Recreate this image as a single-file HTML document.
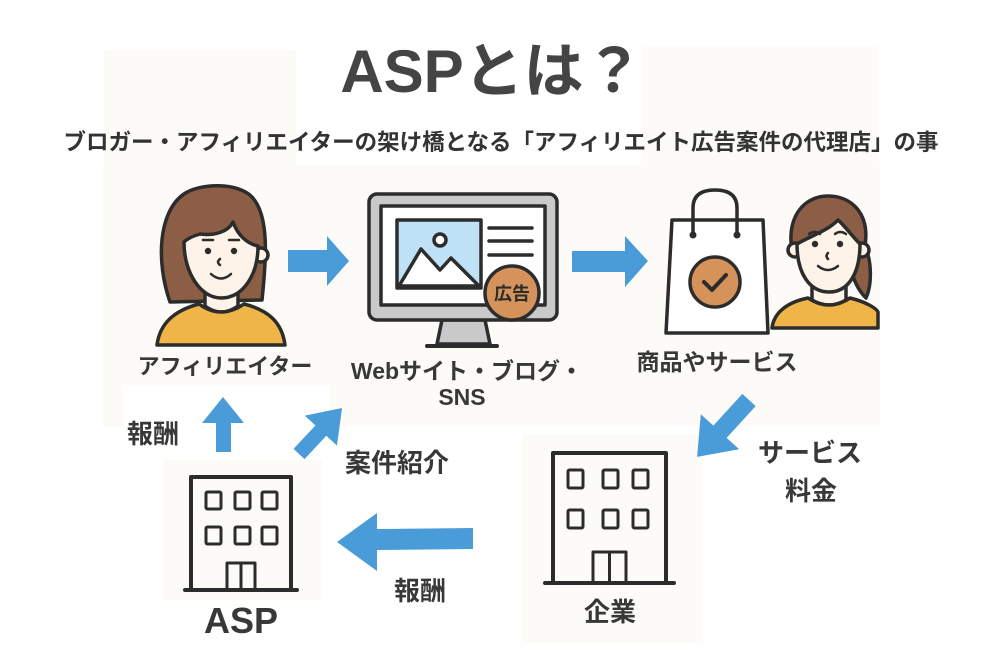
<!DOCTYPE html>
<html><head><meta charset="utf-8"><style>
html,body{margin:0;padding:0;background:#fff;}
svg{display:block;}
text{font-family:"Liberation Sans","Noto Sans CJK JP",sans-serif;font-weight:bold;fill:#383838;}
</style></head><body>
<svg width="1000" height="656" viewBox="0 0 1000 656" xmlns="http://www.w3.org/2000/svg">
<rect width="1000" height="656" fill="#fff"/>
<!-- cream backgrounds -->
<g fill="#fdfbf7">
<rect x="104" y="50" width="192" height="120"/>
<rect x="641" y="47" width="238" height="123"/>
<rect x="103" y="165" width="777" height="220"/>
<rect x="103" y="385" width="20" height="42"/>
<rect x="330" y="385" width="550" height="40"/>
<rect x="163" y="460" width="159" height="140"/>
<rect x="522" y="435" width="181" height="208"/>
</g>

<!-- title -->
<text x="492" y="92" font-size="60" text-anchor="middle" style="fill:#444">ASPとは？</text>
<text x="501" y="150" font-size="22.5" text-anchor="middle" style="fill:#333">ブロガー・アフィリエイターの架け橋となる「アフィリエイト広告案件の代理店」の事</text>

<g stroke="#2c2c2c" stroke-width="3.5" stroke-linejoin="round" stroke-linecap="round">
<!-- left person -->
<path d="M170,302 C156,262 158,212 184,194 C200,183 238,182 252,197 C270,216 266,262 262,300 Z" fill="#8b5e45"/>
<path d="M205,288 L205,306 Q221,318 238,306 L238,288 Z" fill="#fdf3e8"/>
<path d="M157,345 C160,322 176,310 199,304 Q221,320 244,304 C268,310 282,322 285,345 Z" fill="#f0b548"/>
<circle cx="261" cy="255" r="7" fill="#fdf3e8"/>
<path d="M184,242 C184,272 200,298 221,298 C243,298 258,275 258,246 C248,244 238,236 233,222 C228,232 214,236 200,234 C193,236 188,238 184,242 Z" fill="#fdf3e8"/>
<!-- right person -->
<path d="M792,252 C786,214 806,196 828,196 C852,196 870,214 865,246 C872,262 872,285 866,298 C858,290 852,278 852,268 Z" fill="#8b5e45"/>
<path d="M812,285 L812,300 Q829,310 846,300 L846,285 Z" fill="#fdf3e8"/>
<path d="M772,328 C774,312 788,302 808,298 Q829,312 850,298 C866,302 876,308 878,312 L878,328 Z" fill="#f0b548"/>
<circle cx="795" cy="250" r="7" fill="#fdf3e8"/>
<circle cx="862" cy="250" r="7" fill="#fdf3e8"/>
<path d="M797,244 C797,274 810,292 829,292 C848,292 860,274 860,244 C852,236 845,226 838,220 C826,232 810,236 797,244 Z" fill="#fdf3e8"/>
</g>
<!-- faces -->
<g fill="#2c2c2c">
<circle cx="208" cy="251" r="3.2"/><circle cx="234" cy="251" r="3.2"/>
<circle cx="815" cy="244" r="3.2"/><circle cx="840" cy="244" r="3.2"/>
</g>
<g stroke="#2c2c2c" stroke-width="2.5" fill="none" stroke-linecap="round">
<path d="M203,240 L213,240"/><path d="M229,240 L239,240"/>
<path d="M220,259 Q216,262 220,265"/>
<path d="M211,274 Q221,283 231,274"/>
<path d="M809,234 Q814,230 820,234"/><path d="M835,234 Q840,230 846,234"/>
<path d="M828,253 Q825,256 828,259"/>
<path d="M818,266 Q828,274 838,266"/>
</g>

<!-- monitor -->
<g stroke="#2c2c2c" stroke-width="3.5" stroke-linejoin="round" stroke-linecap="round">
<path d="M442,320 L485,320 L490,344 L437,344 Z" fill="#c9c9c9"/>
<line x1="427" y1="346" x2="497" y2="346" stroke-width="4"/>
<rect x="369" y="194" width="188" height="126" rx="8" fill="#c9c9c9"/>
<rect x="381" y="206" width="164" height="99" fill="#fefefe"/>
<rect x="397" y="220" width="84" height="68" fill="#bfe1f5"/>
<path d="M399,286 L421,249 L440,270 L451,258 L479,286 Z" fill="#fff"/>
<circle cx="440" cy="240" r="6" fill="#fff"/>
<line x1="489" y1="228" x2="532" y2="228"/>
<line x1="489" y1="241" x2="532" y2="241"/>
<line x1="489" y1="255" x2="532" y2="255"/>
<circle cx="512" cy="293" r="27" fill="#d5925a"/>
</g>
<text x="512" y="300" font-size="18" text-anchor="middle" style="fill:#2c2c2c">広告</text>

<!-- shopping bag -->
<g stroke="#2c2c2c" stroke-width="3.5" stroke-linejoin="round" stroke-linecap="round">
<path d="M693,235 L693,208 Q693,190 715,190 Q737,190 737,208 L737,235" fill="none"/>
<path d="M672,220 L763,220 L768,333 L666,333 Z" fill="#fff"/>
<path d="M693,235 L693,222 M737,235 L737,222" fill="none"/>
<circle cx="715" cy="282" r="25" fill="#d5925a"/>
<polyline points="704,282 712,290 726,275" fill="none" stroke-width="4"/>
</g>
<circle cx="693" cy="235" r="3.5" fill="#2c2c2c"/>
<circle cx="737" cy="235" r="3.5" fill="#2c2c2c"/>

<!-- arrows -->
<g fill="#4a9cd9">
<polygon points="288,250 327,250 327,236 349,261 327,286 327,272 288,272"/>
<polygon points="572,251 625,251 625,236 648,261 625,287 625,272 572,272"/>
<polygon points="216,452 216,423 202,423 223,397 244,423 231,423 231,452"/>
<polygon points="0,-7.5 32,-7.5 32,-22 63,0 32,22 32,7.5 0,7.5" transform="translate(299,454) rotate(-46.9)"/>
<polygon points="473,528 377,529 377,513 337,542 377,571 377,550 473,549"/>
<polygon points="0,-9 43,-9 43,-26 77,0 43,26 43,9 0,9" transform="translate(749,400) rotate(132.4)"/>
</g>

<!-- buildings -->
<g stroke="#2c2c2c" fill="none" stroke-linecap="round" stroke-linejoin="round">
<rect x="191" y="477" width="100" height="113" stroke-width="4"/>
<line x1="185" y1="590" x2="297" y2="590" stroke-width="4"/>
<g stroke-width="3">
<rect x="206" y="492" width="15" height="17" rx="1.5"/><rect x="235" y="492" width="15" height="17" rx="1.5"/><rect x="262" y="492" width="15" height="17" rx="1.5"/>
<rect x="206" y="527" width="15" height="17" rx="1.5"/><rect x="235" y="527" width="15" height="17" rx="1.5"/><rect x="262" y="527" width="15" height="17" rx="1.5"/>
<rect x="227" y="563" width="28" height="27"/><line x1="241" y1="563" x2="241" y2="590"/>
</g>
<rect x="553" y="453" width="113" height="130" stroke-width="4"/>
<line x1="545" y1="583" x2="674" y2="583" stroke-width="4"/>
<g stroke-width="3">
<rect x="568" y="470" width="15" height="18" rx="1.5"/><rect x="603" y="470" width="15" height="18" rx="1.5"/><rect x="633" y="470" width="15" height="18" rx="1.5"/>
<rect x="568" y="510" width="15" height="18" rx="1.5"/><rect x="603" y="510" width="15" height="18" rx="1.5"/><rect x="633" y="510" width="15" height="18" rx="1.5"/>
<rect x="593" y="552" width="33" height="31"/><line x1="609.5" y1="552" x2="609.5" y2="583"/>
</g>
</g>

<!-- labels -->
<text x="225" y="374" font-size="22" text-anchor="middle">アフィリエイター</text>
<text x="467" y="379" font-size="23" text-anchor="middle">Webサイト・ブログ・</text>
<text x="462" y="405" font-size="23" text-anchor="middle">SNS</text>
<text x="717" y="370" font-size="23" text-anchor="middle">商品やサービス</text>
<text x="153" y="443" font-size="26" text-anchor="middle">報酬</text>
<text x="397" y="472" font-size="26" text-anchor="middle">案件紹介</text>
<text x="810" y="462" font-size="26" text-anchor="middle">サービス</text>
<text x="811" y="500" font-size="26" text-anchor="middle">料金</text>
<text x="420" y="600" font-size="26" text-anchor="middle">報酬</text>
<text x="241" y="633" font-size="36" text-anchor="middle">ASP</text>
<text x="610" y="621" font-size="26" text-anchor="middle">企業</text>
</svg>
</body></html>
